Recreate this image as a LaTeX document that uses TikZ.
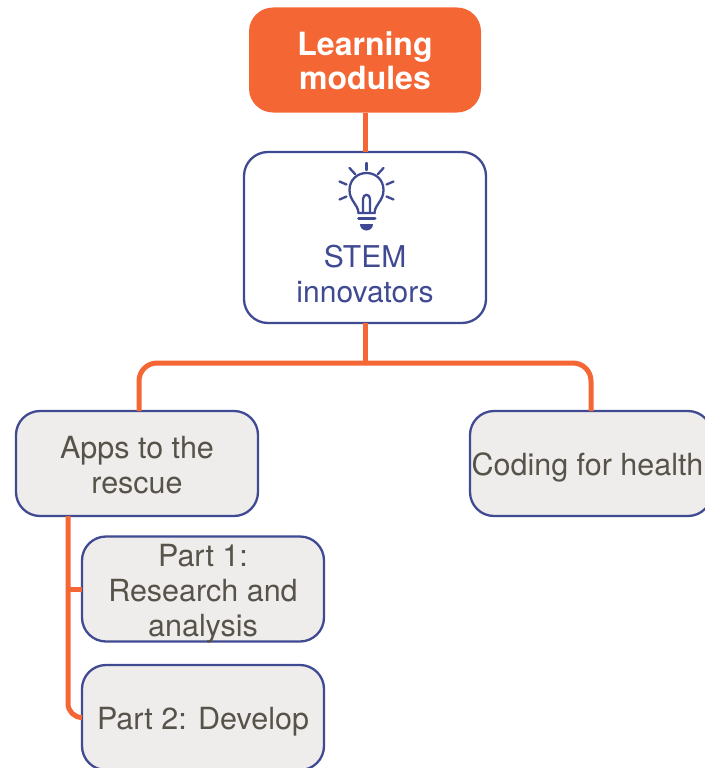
\documentclass[tikz,border=0pt]{standalone}
\usepackage{fontspec}
\setmainfont{TeX Gyre Heros}
\definecolor{rustorange}{HTML}{F46735}
\definecolor{inkblue}{HTML}{3F4A92}
\definecolor{paleash}{HTML}{EEEDEB}
\definecolor{umbertext}{HTML}{57534A}
\newcommand{\topgap}[1]{\rule{0pt}{#1pt}}
\tikzset{
  modulebox/.style={draw=inkblue, line width=2.3pt, rounded corners=24pt, inner sep=0pt, outer sep=0pt,
    minimum width=242pt, minimum height=105pt, align=center, text=umbertext, fill=paleash,
    font=\fontsize{30.5}{35}\selectfont},
  headbox/.style={fill=rustorange, rounded corners=24pt, inner sep=0pt, outer sep=0pt,
    minimum width=232pt, minimum height=105pt, align=center, text=white,
    font=\fontsize{32}{34}\selectfont\bfseries},
  link/.style={draw=rustorange, line width=5pt, rounded corners=12pt},
  bulb/.style={draw=inkblue, line width=2.3pt, line cap=round}
}
\begin{document}
\begin{tikzpicture}[x=1pt, y=-1pt]
    \useasboundingbox (0,0) rectangle (704,768);

    \node[headbox] (learning) at (365,60) {\topgap{26}Learning\\modules};
    \node[modulebox, fill=white, minimum height=171pt] (stem) at (365,237.5) {};
    \node[align=center, text=inkblue, inner sep=0pt, font=\fontsize{30}{36}\selectfont] (stemtext) at (365,274) {STEM\\[-1pt]innovators};
    \node[modulebox] (apps) at (137,463.5) {\topgap{26}Apps to the\\rescue};
    \node[modulebox] (coding) at (591,463.5) {\topgap{31}\hspace*{-7pt}Coding for health};
    \node[modulebox, inner ysep=-4pt] (part1) at (203,589) {\topgap{32}Part 1:\\Research and\\analysis};
    \node[modulebox] (part2) at (203,717.5) {\topgap{31}Part 2: Develop};

    \coordinate (fork) at (365,363);
    \coordinate (railtop) at (68,516);

    \draw[link] (learning) -- (stem);
    \draw[link, rounded corners=0pt] (stem.south) -- (fork);
    \draw[link, rounded corners=18pt] (fork) -| ([xshift=2pt]apps.north);
    \draw[link, rounded corners=18pt] (fork) -| (coding.north);
    \draw[link, rounded corners=14pt] (railtop) |- (part2.west);
    \draw[link, rounded corners=0pt] (railtop |- part1.west) -- (part1.west);

    \draw[bulb] (358.5,213) .. controls (358,204) and (349.5,201) .. (349.5,190)
        .. controls (349.5,180) and (357,173) .. (366.5,173)
        .. controls (376,173) and (383.5,180) .. (383.5,190)
        .. controls (383.5,201) and (375,204) .. (374.5,213) -- cycle;
    \draw[bulb] (363,213) -- (363,199) .. controls (363,193.5) and (370,193.5) .. (370,199) -- (370,213);
    \draw[bulb, line width=3pt] (358.5,218.5) -- (375,218.5);
    \fill[inkblue] (360,224) -- (373,224) .. controls (373,228) and (370,230.5) .. (366.5,230.5)
        .. controls (363,230.5) and (360,228) .. (360,224) -- cycle;
    \foreach \xa/\ya/\xb/\yb in {366.5/163/366.5/170, 349.5/168/355/174, 383.5/168/378/174,
        339.5/181.5/346.5/184.5, 393.5/181.5/386.5/184.5, 339.5/199.5/346.5/196.5, 393.5/199.5/386.5/196.5}
        \draw[bulb] (\xa,\ya) -- (\xb,\yb);
\end{tikzpicture}
\end{document}
